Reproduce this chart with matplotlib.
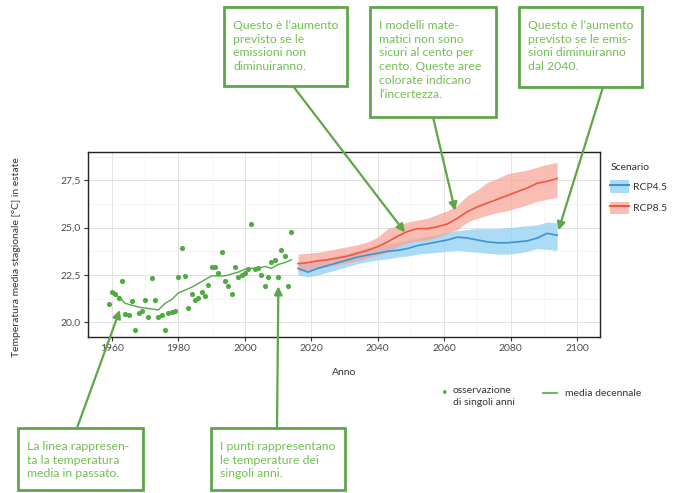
#!/usr/bin/env python3
"""
Temperatura estiva: osservazioni e scenari RCP4.5 / RCP8.5
"""

import matplotlib
matplotlib.use('Agg')
import matplotlib.pyplot as plt
from matplotlib.patches import Rectangle, Patch
from matplotlib.lines import Line2D
from matplotlib.ticker import MultipleLocator, FuncFormatter

# ---------------- data ----------------
obs_years = list(range(1959, 2015))
obs_temp = [20.95, 21.6, 21.48, 21.3, 22.2, 20.46, 20.4, 21.1, 19.6, 20.5,
            20.6, 21.16, 20.3, 22.36, 21.16, 20.3, 20.4, 19.6, 20.5, 20.55,
            20.6, 22.4, 23.9, 22.45, 20.76, 21.48, 21.2, 21.3, 21.6, 21.4,
            21.96, 22.9, 22.9, 22.6, 23.7, 22.2, 21.9, 21.5, 22.9, 22.4,
            22.5, 22.6, 22.8, 25.2, 22.8, 22.85, 22.5, 21.9, 22.4, 23.2,
            23.3, 22.4, 23.8, 23.5, 21.9, 24.75]

mean_years = [1960, 1962, 1964, 1966, 1968, 1970, 1972, 1974, 1976, 1978,
              1980, 1982, 1984, 1986, 1988, 1990, 1992, 1994, 1996, 1998,
              2000, 2002, 2004, 2006, 2008, 2010, 2012, 2014]
mean_temp = [21.6, 21.35, 21.0, 20.9, 20.8, 20.75, 20.7, 20.65, 21.0, 21.2,
             21.55, 21.7, 21.85, 22.05, 22.25, 22.45, 22.45, 22.45, 22.55, 22.65,
             22.8, 22.85, 22.85, 22.95, 22.85, 23.05, 23.15, 23.3]

proj_years = [2016, 2019, 2022, 2025, 2028, 2031, 2034, 2037, 2040, 2043,
              2046, 2049, 2052, 2055, 2058, 2061, 2064, 2067, 2070, 2073,
              2076, 2079, 2082, 2085, 2088, 2091, 2094]

rcp85_mid = [23.1, 23.15, 23.25, 23.3, 23.4, 23.5, 23.65, 23.8, 24.0, 24.25,
             24.55, 24.8, 24.95, 24.95, 25.05, 25.2, 25.5, 25.85, 26.1, 26.3,
             26.5, 26.7, 26.9, 27.1, 27.35, 27.45, 27.6]
rcp85_high = [23.6, 23.65, 23.7, 23.8, 23.9, 24.0, 24.1, 24.25, 24.5, 24.95,
              25.1, 25.3, 25.4, 25.5, 25.7, 25.9, 26.2, 26.7, 27.0, 27.4,
              27.6, 27.85, 27.95, 28.05, 28.2, 28.35, 28.45]
rcp85_low = [22.7, 22.75, 22.85, 22.95, 23.05, 23.15, 23.25, 23.4, 23.55, 23.7,
             24.0, 24.2, 24.3, 24.35, 24.5, 24.7, 24.9, 25.3, 25.5, 25.65,
             25.8, 25.9, 26.05, 26.2, 26.4, 26.5, 26.6]

rcp45_mid = [22.85, 22.65, 22.85, 23.0, 23.15, 23.3, 23.45, 23.55, 23.65, 23.75,
             23.8, 23.9, 24.05, 24.15, 24.25, 24.35, 24.5, 24.45, 24.35, 24.25,
             24.2, 24.2, 24.25, 24.3, 24.45, 24.7, 24.6]
rcp45_high = [23.15, 23.1, 23.25, 23.4, 23.55, 23.65, 23.8, 23.95, 24.05, 24.15,
              24.25, 24.35, 24.45, 24.55, 24.65, 24.75, 24.85, 24.9, 24.95, 24.95,
              24.95, 25.0, 25.05, 25.1, 25.15, 25.3, 25.25]
rcp45_low = [22.5, 22.4, 22.5, 22.65, 22.8, 22.95, 23.1, 23.2, 23.3, 23.35,
             23.45, 23.5, 23.6, 23.65, 23.7, 23.75, 23.8, 23.75, 23.7, 23.65,
             23.6, 23.6, 23.65, 23.75, 23.9, 23.85, 23.8]

scenario_labels = ['RCP4.5', 'RCP8.5']

# ---------------- style ----------------
W, H = 675, 493
GREEN_BOX = '#5fa64a'
GREEN_TXT = '#74bf55'
GREEN_OBS = '#52aa45'
BLUE_LINE = '#3b95d3'
BLUE_BAND = '#8fd0f2'
RED_LINE = '#ee5744'
RED_BAND = '#f8a293'

plt.rcParams['font.family'] = ['Lato', 'DejaVu Sans']


def px(x, y):
    """image pixels (top-left origin) -> figure fraction"""
    return x / W, 1 - y / H


fig = plt.figure(figsize=(W / 100, H / 100), dpi=100)
fig.patch.set_facecolor('white')

l, t = px(88, 152)
r, b = px(600, 337)
ax = fig.add_axes([l, b, r - l, t - b])

# bands and lines
ax.fill_between(proj_years, rcp45_low, rcp45_high, color=BLUE_BAND, alpha=0.75, lw=0)
ax.fill_between(proj_years, rcp85_low, rcp85_high, color=RED_BAND, alpha=0.7, lw=0)
ax.plot(proj_years, rcp45_mid, color=BLUE_LINE, lw=1.2)
ax.plot(proj_years, rcp85_mid, color=RED_LINE, lw=1.2)

ax.plot(mean_years, mean_temp, color=GREEN_OBS, lw=1.0)
ax.scatter(obs_years, obs_temp, s=14, color=GREEN_OBS, lw=0, zorder=3)

ax.set_xlim(1952.8, 2106.9)
ax.set_ylim(19.22, 29.0)
ax.xaxis.set_major_locator(MultipleLocator(20))
ax.xaxis.set_minor_locator(MultipleLocator(10))
ax.yaxis.set_major_locator(MultipleLocator(2.5))
ax.yaxis.set_minor_locator(MultipleLocator(1.25))
ax.yaxis.set_major_formatter(FuncFormatter(lambda v, p: f'{v:.1f}'.replace('.', ',')))

ax.grid(True, which='major', color='#e3e3e3', lw=0.7)
ax.grid(True, which='minor', color='#f1f1f1', lw=0.5)
ax.set_axisbelow(True)
ax.tick_params(which='major', length=3, width=0.8, color='#333333',
               labelsize=7.5, labelcolor='#4d4d4d', pad=2)
ax.tick_params(which='minor', length=0)
for spine in ax.spines.values():
    spine.set_color('#222222')
    spine.set_linewidth(1.0)

ax.set_xlabel('Anno', fontsize=7.5, color='#333333')
ax.xaxis.set_label_coords(0.5, -0.165)
ax.set_ylabel('Temperatura media stagionale [°C] in estate', fontsize=7.5, color='#333333')
ax.yaxis.set_label_coords(-0.13, 0.43)

# scenario legend
handles = [(Patch(facecolor=BLUE_BAND, alpha=0.75, lw=0), Line2D([], [], color=BLUE_LINE, lw=1.5)),
           (Patch(facecolor=RED_BAND, alpha=0.7, lw=0), Line2D([], [], color=RED_LINE, lw=1.5))]
leg = ax.legend(handles, scenario_labels, title='Scenario', loc='upper left',
                bbox_to_anchor=px(606, 159), bbox_transform=fig.transFigure,
                frameon=False, fontsize=7.5, title_fontsize=7.5,
                handlelength=1.8, handleheight=1.5, handletextpad=0.4,
                labelspacing=0.8, borderaxespad=0)
leg._legend_box.align = 'left'
for txt in leg.get_texts():
    txt.set_color('#333333')
leg.get_title().set_color('#333333')

# bottom legend
fig.text(*px(445, 393), '•', color=GREEN_OBS, fontsize=7, ha='center', va='center')
fig.text(*px(453, 386), 'osservazione\ndi singoli anni', fontsize=7.5, color='#333333',
         ha='left', va='top', linespacing=1.45)
fig.add_artist(Line2D([px(543, 0)[0], px(557, 0)[0]], [px(0, 393)[1]] * 2,
                      color=GREEN_OBS, lw=1.2, transform=fig.transFigure))
fig.text(*px(565, 393), 'media decennale', fontsize=7.5, color='#333333', ha='left', va='center')

# ---------------- annotation boxes ----------------
boxes = [
    ((224, 7, 347, 86), 'Questo è l\u2019aumento\nprevisto se le\nemissioni non\ndiminuiranno.',
     (293, 86), (2048.2, 24.75)),
    ((370, 7, 496, 117), 'I modelli mate-\nmatici non sono\nsicuri al cento per\ncento. Queste aree\ncolorate indicano\nl\u2019incertezza.',
     (433, 117), (2063.3, 25.9)),
    ((519, 7, 642, 87), 'Questo è l\u2019aumento\nprevisto se le emis-\nsioni diminuiranno\ndal 2040.',
     (603, 87), (2094.4, 24.86)),
    ((18, 428, 143, 490), 'La linea rappresen-\nta la temperatura\nmedia in passato.',
     (77, 428), (1962.4, 20.65)),
    ((211, 428, 345, 490), 'I punti rappresentano\nle temperature dei\nsingoli anni.',
     (277, 428), (2010.1, 21.9)),
]

for (x0, y0, x1, y1), text, start, tip in boxes:
    bx, by = px(x0, y1)
    bw = (x1 - x0) / W
    bh = (y1 - y0) / H
    fig.add_artist(Rectangle((bx, by), bw, bh, transform=fig.transFigure,
                             facecolor='white', edgecolor=GREEN_BOX, lw=2.0))
    fig.text(*px(x0 + 9, y0 + 13), text, fontsize=8.8, color=GREEN_TXT,
             ha='left', va='top', linespacing=1.3)
    ax.annotate('', xy=tip, xycoords='data',
                xytext=px(*start), textcoords='figure fraction',
                arrowprops=dict(arrowstyle='-|>', color=GREEN_BOX, lw=1.6,
                                mutation_scale=12, shrinkA=0, shrinkB=0),
                annotation_clip=False)

fig.savefig('out.png', dpi=100, facecolor='white')
plt.close(fig)
